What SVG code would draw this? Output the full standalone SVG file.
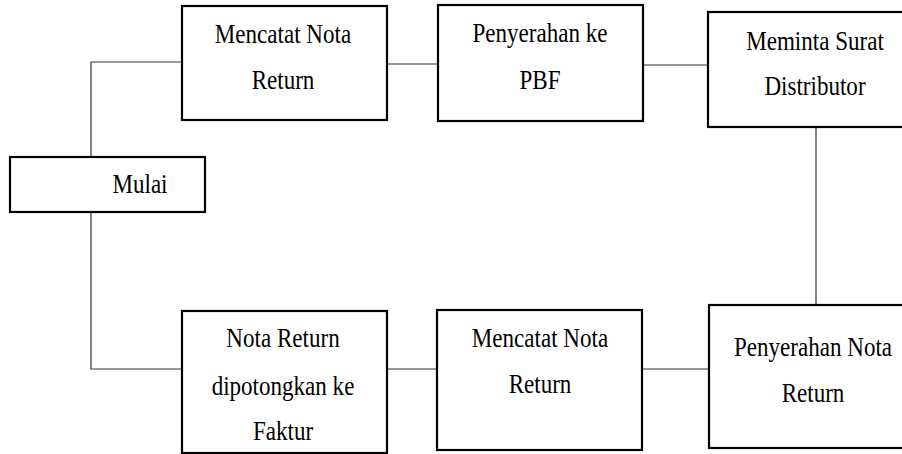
<svg xmlns="http://www.w3.org/2000/svg" width="902" height="454" viewBox="0 0 902 454">
<style>
.box{fill:#fff;stroke:#000;stroke-width:2.2}
.con{fill:none;stroke:#333;stroke-width:1.2}
.t{font-family:'Liberation Serif','DejaVu Serif',serif;font-size:26.5px;fill:#000;text-anchor:middle}
</style>
<rect width="902" height="454" fill="#fff"/>
<g id="connectors">
<polyline class="con" points="91,157 91,62 182,62"/>
<line class="con" x1="387" y1="64" x2="438" y2="64"/>
<line class="con" x1="643" y1="65" x2="708" y2="65"/>
<line class="con" x1="816" y1="127" x2="816" y2="305"/>
<line class="con" x1="642" y1="369" x2="709" y2="369"/>
<line class="con" x1="387" y1="369" x2="437" y2="369"/>
<polyline class="con" points="91,212 91,369 182,369"/>
</g>
<g id="mulai">
<rect class="box" x="10" y="157" width="195" height="55"/>
<text class="t" transform="translate(140,193) scale(0.87,1)">Mulai</text>
</g>
<g id="mencatat1">
<rect class="box" x="182" y="6" width="205" height="114"/>
<text class="t" transform="translate(283,43) scale(0.87,1)">Mencatat Nota</text>
<text class="t" transform="translate(283,89) scale(0.87,1)">Return</text>
</g>
<g id="penyerahan-pbf">
<rect class="box" x="438" y="5" width="205" height="116"/>
<text class="t" transform="translate(540,42) scale(0.87,1)">Penyerahan ke</text>
<text class="t" transform="translate(540,89) scale(0.87,1)">PBF</text>
</g>
<g id="meminta">
<rect class="box" x="708" y="12" width="210" height="115"/>
<text class="t" transform="translate(815,50) scale(0.87,1)">Meminta Surat</text>
<text class="t" transform="translate(815,95) scale(0.87,1)">Distributor</text>
</g>
<g id="penyerahan-nota">
<rect class="box" x="709" y="305" width="210" height="143"/>
<text class="t" transform="translate(813,356) scale(0.87,1)">Penyerahan Nota</text>
<text class="t" transform="translate(813,402) scale(0.87,1)">Return</text>
</g>
<g id="mencatat2">
<rect class="box" x="437" y="310" width="205" height="140"/>
<text class="t" transform="translate(540,347) scale(0.87,1)">Mencatat Nota</text>
<text class="t" transform="translate(540,393) scale(0.87,1)">Return</text>
</g>
<g id="nota-return">
<rect class="box" x="182" y="311" width="205" height="142"/>
<text class="t" transform="translate(283,347) scale(0.87,1)">Nota Return</text>
<text class="t" transform="translate(283,395) scale(0.87,1)">dipotongkan ke</text>
<text class="t" transform="translate(283,440) scale(0.87,1)">Faktur</text>
</g>
</svg>
